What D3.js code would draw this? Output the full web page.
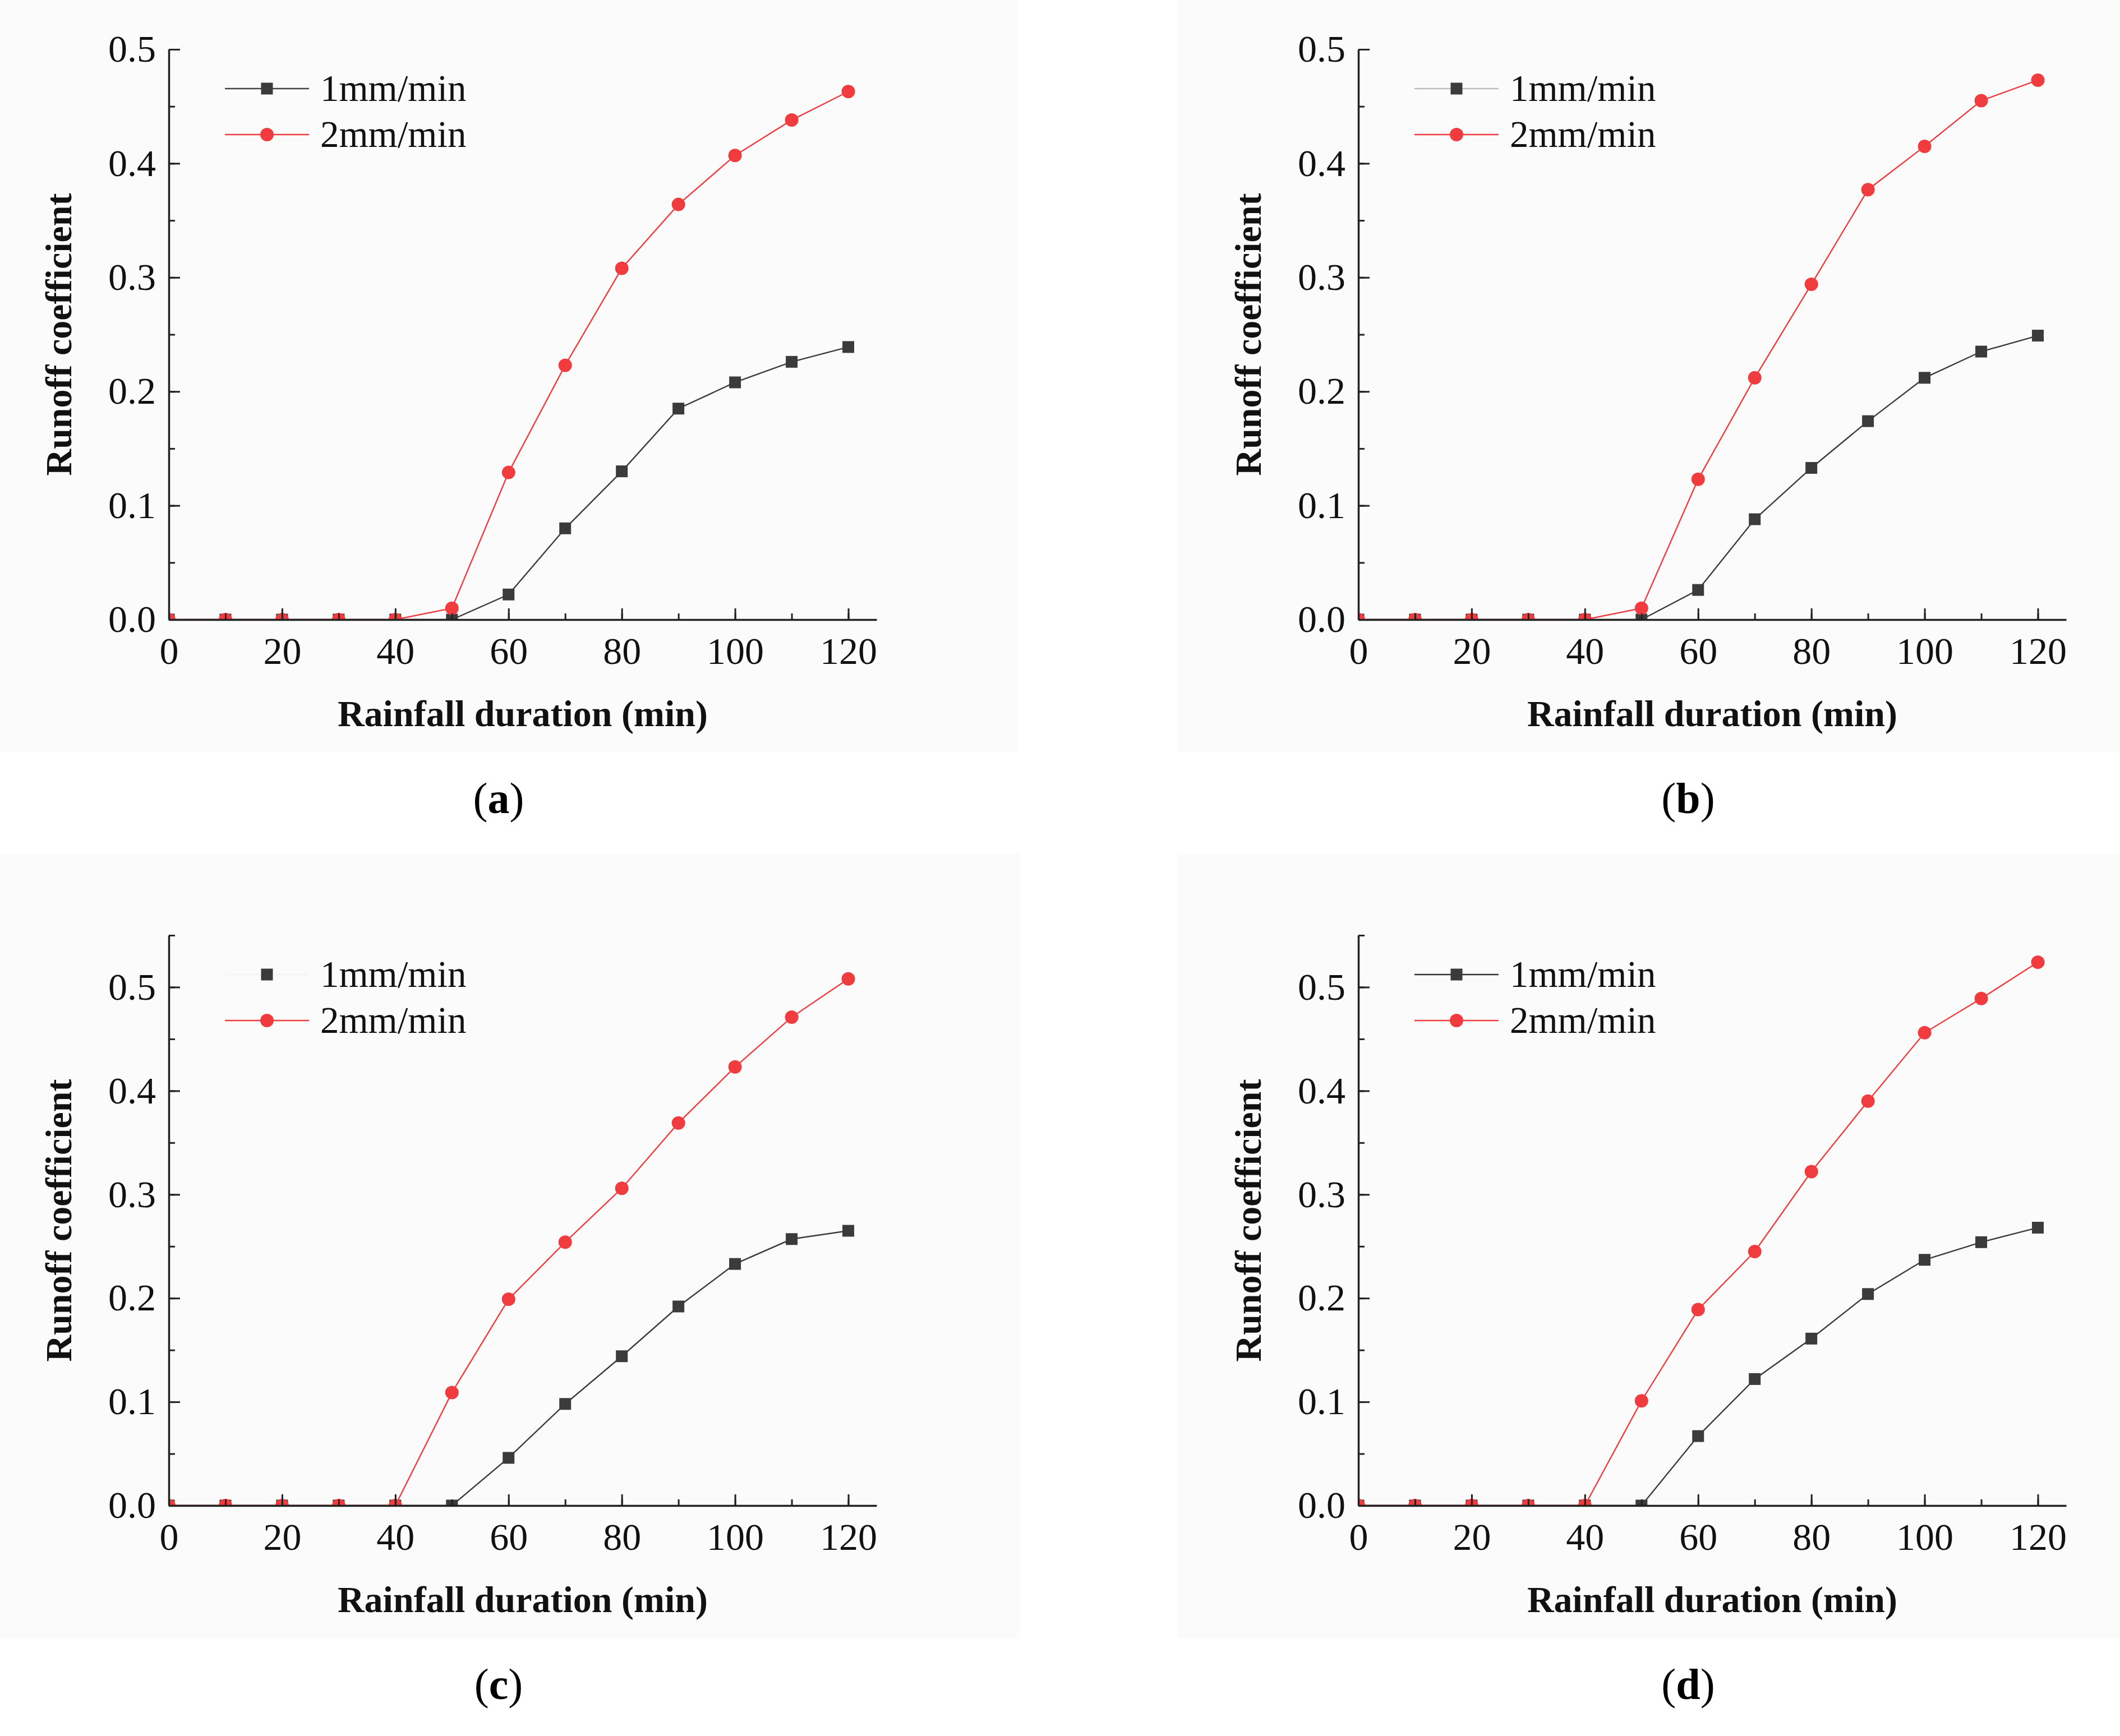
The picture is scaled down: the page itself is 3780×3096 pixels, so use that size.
<!DOCTYPE html>
<html>
<head>
<meta charset="utf-8">
<script src="https://cdn.jsdelivr.net/npm/d3@7"></script>
<style>
  body { margin: 0; background: #fff; }
  text { font-family: "Liberation Serif", "Times New Roman", serif; }
</style>
</head>
<body>
<div class="d3-container"></div>
<script>
// rainfall duration (min)
const durations = [0, 10, 20, 30, 40, 50, 60, 70, 80, 90, 100, 110, 120];
const seriesNames = ["1mm/min", "2mm/min"];
const xTicks = [0, 20, 40, 60, 80, 100, 120];

// runoff coefficient
const a1 = [0, 0, 0, 0, 0, 0, 0.022, 0.080, 0.130, 0.185, 0.208, 0.226, 0.239];
const a2 = [0, 0, 0, 0, 0, 0.010, 0.129, 0.223, 0.308, 0.364, 0.407, 0.438, 0.463];
const b1 = [0, 0, 0, 0, 0, 0, 0.026, 0.088, 0.133, 0.174, 0.212, 0.235, 0.249];
const b2 = [0, 0, 0, 0, 0, 0.010, 0.123, 0.212, 0.294, 0.377, 0.415, 0.455, 0.473];
const c1 = [0, 0, 0, 0, 0, 0, 0.046, 0.098, 0.144, 0.192, 0.233, 0.257, 0.265];
const c2 = [0, 0, 0, 0, 0, 0.109, 0.199, 0.254, 0.306, 0.369, 0.423, 0.471, 0.508];
const d1 = [0, 0, 0, 0, 0, 0, 0.067, 0.122, 0.161, 0.204, 0.237, 0.254, 0.268];
const d2 = [0, 0, 0, 0, 0, 0.101, 0.189, 0.245, 0.322, 0.390, 0.456, 0.489, 0.524];

const yMaxAB = 0.5;
const yMaxCD = 0.55;

const width = 3780;
const height = 3096;
const plotW = 1262;
const plotH = 1017;
const xMax = 125;

const black = "#3b3b3b";
const red = "#f03c3f";

const panels = [
  {label: "a", s1: a1, s2: a2, yMax: yMaxAB, left: 301, top: 88, bg: [0, 0, 1814, 1340], legendLine: "#444"},
  {label: "b", s1: b1, s2: b2, yMax: yMaxAB, left: 2422, top: 88, bg: [2099, 0, 1681, 1340], legendLine: "#bdbdbd"},
  {label: "c", s1: c1, s2: c2, yMax: yMaxCD, left: 301, top: 1668, bg: [0, 1521, 1818, 1401], legendLine: "#f4f4f4"},
  {label: "d", s1: d1, s2: d2, yMax: yMaxCD, left: 2422, top: 1668, bg: [2099, 1521, 1681, 1401], legendLine: "#333"},
];

const svg = d3.select(".d3-container")
  .append("svg")
  .attr("width", width)
  .attr("height", height)
  .attr("viewBox", [0, 0, width, height]);

svg.append("rect").attr("width", width).attr("height", height).attr("fill", "#fff");

panels.forEach((p, pi) => {
  svg.append("rect")
    .attr("x", p.bg[0]).attr("y", p.bg[1])
    .attr("width", p.bg[2]).attr("height", p.bg[3])
    .attr("fill", "#fbfbfb");

  const g = svg.append("g").attr("transform", `translate(${p.left},${p.top})`);

  const x = d3.scaleLinear().domain([0, xMax]).range([0, plotW]);
  const y = d3.scaleLinear().domain([0, p.yMax]).range([plotH, 0]);

  const clipId = "clip" + pi;
  g.append("clipPath").attr("id", clipId)
    .append("rect").attr("x", 0).attr("y", -20).attr("width", plotW).attr("height", plotH + 20);

  const plot = g.append("g").attr("clip-path", `url(#${clipId})`);

  const line = d3.line().x((d, i) => x(durations[i])).y(d => y(d));

  // 1mm/min series
  plot.append("path")
    .datum(p.s1)
    .attr("fill", "none")
    .attr("stroke", black)
    .attr("stroke-width", 2.4)
    .attr("d", line);

  // 2mm/min series
  plot.append("path")
    .datum(p.s2)
    .attr("fill", "none")
    .attr("stroke", red)
    .attr("stroke-width", 2.4)
    .attr("d", line);

  plot.append("g")
    .selectAll("rect")
    .data(p.s1)
    .join("rect")
    .attr("x", (d, i) => x(durations[i]) - 10.5)
    .attr("y", d => y(d) - 10.5)
    .attr("width", 21)
    .attr("height", 21)
    .attr("fill", black);

  plot.append("g")
    .selectAll("circle")
    .data(p.s2)
    .join("circle")
    .attr("cx", (d, i) => x(durations[i]))
    .attr("cy", d => y(d))
    .attr("r", 12)
    .attr("fill", red);

  // axes, ticks inward
  const yTicks = d3.range(0, p.yMax + 1e-9, 0.1);
  const yMinor = d3.range(0, p.yMax + 1e-9, 0.05);

  g.append("g")
    .call(d3.axisLeft(y).tickValues(yMinor).tickSize(-11).tickSizeOuter(0).tickFormat(""))
    .call(s => s.select(".domain").remove())
    .call(s => s.selectAll("line").attr("stroke", "#222").attr("stroke-width", 3));

  g.append("g")
    .call(d3.axisBottom(x).tickValues(durations).tickSize(-11).tickSizeOuter(0).tickFormat(""))
    .attr("transform", `translate(0,${plotH})`)
    .call(s => s.select(".domain").remove())
    .call(s => s.selectAll("line").attr("stroke", "#222").attr("stroke-width", 3));

  const yAxis = g.append("g")
    .call(d3.axisLeft(y).tickValues(yTicks).tickSize(-20).tickSizeOuter(0).tickPadding(23).tickFormat(d3.format(".1f")));

  const xAxis = g.append("g")
    .attr("transform", `translate(0,${plotH})`)
    .call(d3.axisBottom(x).tickValues(xTicks).tickSize(-20).tickSizeOuter(0).tickPadding(31));

  [yAxis, xAxis].forEach(a => {
    a.select(".domain").attr("stroke", "#222").attr("stroke-width", 3.5);
    a.selectAll("line").attr("stroke", "#222").attr("stroke-width", 3);
    a.selectAll("text")
      .attr("font-family", "Liberation Serif")
      .attr("font-size", 68)
      .attr("fill", "#111");
  });

  // axis titles
  g.append("text")
    .attr("x", plotW / 2)
    .attr("y", plotH + 190)
    .attr("text-anchor", "middle")
    .attr("font-size", 66)
    .attr("font-weight", "bold")
    .attr("fill", "#111")
    .text("Rainfall duration (min)");

  g.append("text")
    .attr("transform", `translate(-174,${plotH / 2}) rotate(-90)`)
    .attr("text-anchor", "middle")
    .attr("font-size", 66)
    .attr("font-weight", "bold")
    .attr("fill", "#111")
    .text("Runoff coefficient");

  // legend
  const lg = g.append("g").attr("transform", "translate(100,0)");
  [0, 1].forEach(k => {
    const ly = k === 0 ? 70 : 152;
    lg.append("line")
      .attr("x1", 0).attr("x2", 150)
      .attr("y1", ly).attr("y2", ly)
      .attr("stroke", k === 0 ? p.legendLine : red)
      .attr("stroke-width", 2.4);
    if (k === 0) {
      lg.append("rect")
        .attr("x", 75 - 10.5).attr("y", ly - 10.5)
        .attr("width", 21).attr("height", 21)
        .attr("fill", black);
    } else {
      lg.append("circle")
        .attr("cx", 75).attr("cy", ly).attr("r", 12)
        .attr("fill", red);
    }
    lg.append("text")
      .attr("x", 170)
      .attr("y", ly + 22)
      .attr("font-size", 67)
      .attr("fill", "#111")
      .text(seriesNames[k]);
  });

  // panel label
  const pl = g.append("text")
    .attr("x", 588)
    .attr("y", 1362)
    .attr("text-anchor", "middle")
    .attr("font-size", 78)
    .attr("fill", "#000");
  pl.append("tspan").text("(");
  pl.append("tspan").attr("font-weight", "bold").text(p.label);
  pl.append("tspan").text(")");
});

svg.node();
</script>
</body>
</html>
